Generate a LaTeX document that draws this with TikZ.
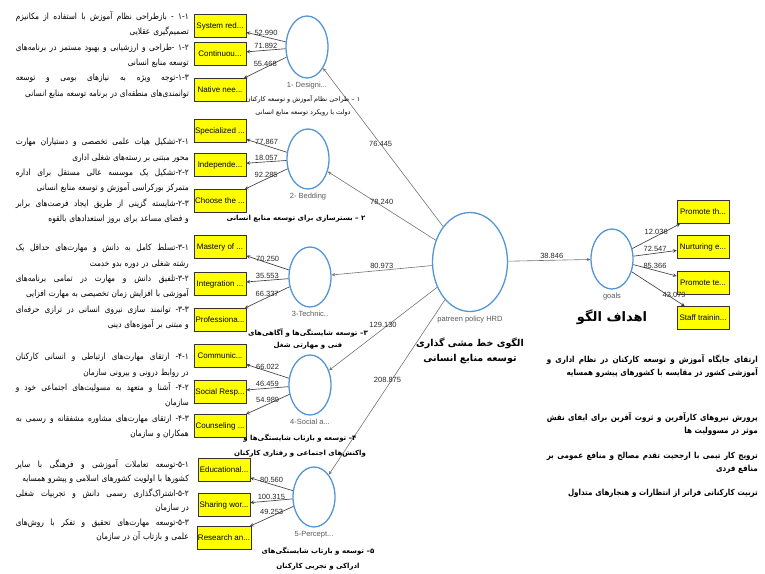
\documentclass[tikz,border=0pt]{standalone}
\usepackage{fontspec}
\setmainfont{Liberation Sans}
\newfontfamily\fa[Script=Arabic]{DejaVu Sans}
\newfontfamily\fanarrow[Script=Arabic, FakeStretch=0.86]{DejaVu Sans}
\TeXXeTstate=1
\usetikzlibrary{shapes.geometric, positioning, arrows}

\definecolor{circblue}{RGB}{84,150,212}
\definecolor{boxyellow}{RGB}{255,255,0}

% one justified RTL line, one ragged RTL line
\newcommand{\fafull}[1]{\leavevmode\hbox to\hsize{\spaceskip=0.3em plus 1fil\relax\beginR #1\endR}}
\newcommand{\faline}[1]{\beginR #1\endR}

\begin{document}
\begin{tikzpicture}[
    x=1pt, y=1pt, ->, >=stealth,
    latent/.style={ellipse, draw=circblue, line width=1.3pt, fill=white, minimum width=42pt, minimum height=60pt, inner sep=0pt},
    ind/.style={rectangle, draw=black!80, fill=boxyellow, line width=0.7pt, minimum width=52pt, minimum height=23pt, inner sep=1pt, font=\fontsize{8}{9}\selectfont},
    wt/.style={font=\fontsize{7.5}{8}\selectfont, text=black!85, inner sep=1pt},
    loadline/.style={draw=black!75, line width=0.65pt},
    pathline/.style={draw=black!55, line width=0.6pt},
    every label/.style={font=\fontsize{7.5}{8}\selectfont, text=black!65},
    fatext/.style={align=right, text width=173pt, inner sep=0pt, anchor=north east, font=\fanarrow\fontsize{8.6}{15.4}\selectfont},
    goaltext/.style={align=right, text width=211pt, inner sep=0pt, anchor=north east, font=\fanarrow\bfseries\fontsize{8.3}{13}\selectfont},
    dimtext/.style={align=center, inner sep=0pt, anchor=north, font=\fa\bfseries\fontsize{7}{15}\selectfont}
]
    \useasboundingbox (0,0) rectangle (765,-573);

    % Main constructs
    \node[latent, minimum width=75pt, minimum height=99pt, label=below:patreen policy HRD] (HRD) at (470,-262) {};
    \node[latent, label=below:goals] (GOALS) at (612,-259) {};

    % Dimensions
    \node[latent, minimum height=62pt, label=below:1- Designi...] (D1) at (307,-47) {};
    \node[latent, label=below:2- Bedding] (D2) at (308,-159) {};
    \node[latent, label=below:3-Technic..] (D3) at (310,-277) {};
    \node[latent, label=below:4-Social a...] (D4) at (310,-385) {};
    \node[latent, label=below:5-Percept...] (D5) at (314,-497) {};

    % Indicators 1
    \node[ind] (S11) at (220,-26) {System red...};
    \node[ind, below of=S11, node distance=28pt] (S12) {Continuou...};
    \node[ind, below of=S12, node distance=36pt] (S13) {Native nee...};
    % Indicators 2
    \node[ind] (S21) at (220,-131) {Specialized ...};
    \node[ind, below of=S21, node distance=34pt] (S22) {Independe...};
    \node[ind, below of=S22, node distance=36pt] (S23) {Choose the ...};
    % Indicators 3
    \node[ind] (S31) at (220,-247) {Mastery of ...};
    \node[ind, below of=S31, node distance=37pt] (S32) {Integration ...};
    \node[ind, below of=S32, node distance=36pt] (S33) {Professiona...};
    % Indicators 4
    \node[ind] (S41) at (220,-356) {Communic...};
    \node[ind, below of=S41, node distance=36pt] (S42) {Social Resp...};
    \node[ind, below of=S42, node distance=34pt] (S43) {Counseling ...};
    % Indicators 5
    \node[ind] (S51) at (224,-470) {Educational...};
    \node[ind, below of=S51, node distance=35pt] (S52) {Sharing wor...};
    \node[ind, below of=S52, node distance=33pt] (S53) {Research an...};
    % Goal indicators
    \node[ind] (G1) at (703,-212) {Promote th...};
    \node[ind, below of=G1, node distance=35pt] (G2) {Nurturing e...};
    \node[ind, below of=G2, node distance=36pt] (G3) {Promote te...};
    \node[ind, below of=G3, node distance=35pt] (G4) {Staff trainin...};

    % Edges
    % HRD -> dimensions
    \path (HRD) edge[pathline] node[wt, pos=0.52] {76.445} (D1)
          (HRD) edge[pathline] node[wt, above, pos=0.5] {78.240} (D2)
          (HRD) edge[pathline] node[wt, above, pos=0.5] {80.973} (D3)
          (HRD) edge[pathline] node[wt, above, pos=0.5] {129.130} (D4)
          (HRD) edge[pathline] node[wt, pos=0.46, xshift=-4pt] {208.875} (D5)
          (HRD) edge[pathline] node[wt, above, pos=0.53] {38.846} (GOALS);

    % Dimensions -> indicators
    \path (D1) edge[loadline] node[wt, above] {52.990} (S11)
          (D1) edge[loadline] node[wt, above] {71.892} (S12)
          (D1) edge[loadline] node[wt, above] {55.468} (S13);
    \path (D2) edge[loadline] node[wt, above] {77.867} (S21)
          (D2) edge[loadline] node[wt, above] {18.057} (S22)
          (D2) edge[loadline] node[wt, above] {92.285} (S23);
    \path (D3) edge[loadline] node[wt, above] {70.250} (S31)
          (D3) edge[loadline] node[wt, above] {35.553} (S32)
          (D3) edge[loadline] node[wt, above] {66.337} (S33);
    \path (D4) edge[loadline] node[wt, above] {66.022} (S41)
          (D4) edge[loadline] node[wt, above] {46.459} (S42)
          (D4) edge[loadline] node[wt, above] {54.989} (S43);
    \path (D5) edge[loadline] node[wt, above] {80.560} (S51)
          (D5) edge[loadline] node[wt, above] {100.315} (S52)
          (D5) edge[loadline] node[wt, above] {49.253} (S53);

    % Goals -> indicators
    \path (GOALS) edge[loadline] node[wt, above] {12.036} (G1)
          (GOALS) edge[loadline] node[wt, above] {72.547} (G2)
          (GOALS) edge[loadline] node[wt, above] {85.366} (G3)
          (GOALS) edge[loadline] node[wt, above, pos=0.8] {43.079} (G4);

    % Persian captions of the constructs
    \node[dimtext, font=\fa\fontsize{6.5}{13}\selectfont] (L1) at (303,-95) {\faline{۱ – طراحی نظام آموزش و توسعه کارکنان}\\ \faline{دولت با رویکرد توسعه منابع انسانی}};
    \node[dimtext] (L2) at (296,-215) {\faline{۲ – بسترسازی برای توسعه منابع انسانی}};
    \node[dimtext, font=\fa\bfseries\fontsize{7}{12}\selectfont] (L3) at (308,-329) {\faline{۳– توسعه شایستگی‌ها و آگاهی‌های}\\ \faline{فنی و مهارتی شغل}};
    \node[dimtext] (L4) at (300,-434) {\faline{۴– توسعه و بازتاب شایستگی‌ها و}\\ \faline{واکنش‌های اجتماعی و رفتاری کارکنان}};
    \node[dimtext] (L5) at (318,-547) {\faline{۵– توسعه و بازتاب شایستگی‌های}\\ \faline{ادراکی و تجربی کارکنان}};
    \node[dimtext, font=\fa\bfseries\fontsize{9.5}{15}\selectfont] (LHRD) at (470,-338) {\faline{الگوی خط مشی گذاری}\\ \faline{توسعه منابع انسانی}};
    \node[dimtext, font=\fa\bfseries\fontsize{13}{15}\selectfont] (LGOALS) at (612,-309) {\faline{اهداف الگو}};

    % Indicator texts, left
    \node[fatext] (T1) at (189,-11) {\fafull{۱-۱ - بازطراحی نظام آموزش با استفاده از مکانیزم}\\
        \faline{تصمیم‌گیری عقلایی}\\
        \fafull{۱-۲ -طراحی و ارزشیابی و بهبود مستمر در برنامه‌های}\\
        \faline{توسعه منابع انسانی}\\
        \fafull{۱-۳-توجه ویژه به نیازهای بومی و توسعه}\\
        \faline{توانمندی‌های منطقه‌ای در برنامه توسعه منابع انسانی}};
    \node[fatext] (T2) at (189,-138) {\fafull{۲-۱-تشکیل هیات علمی تخصصی و دستیاران مهارت}\\
        \faline{محور مبتنی بر رسته‌های شغلی اداری}\\
        \fafull{۲-۲-تشکیل یک موسسه عالی مستقل برای اداره}\\
        \faline{متمرکز بورکراسی آموزش و توسعه منابع انسانی}\\
        \fafull{۲-۳-شایسته گزینی از طریق ایجاد فرصت‌های برابر}\\
        \faline{و فضای مساعد برای بروز استعدادهای بالقوه}};
    \node[fatext] (T3) at (189,-244) {\fafull{۳-۱-تسلط کامل به دانش و مهارت‌های حداقل یک}\\
        \faline{رشته شغلی در دوره بدو خدمت}\\
        \fafull{۳-۲-تلفیق دانش و مهارت در تمامی برنامه‌های}\\
        \faline{آموزشی با افزایش زمان تخصیصی به مهارت افزایی}\\
        \fafull{۳-۳- توانمند سازی نیروی انسانی در ترازی حرفه‌ای}\\
        \faline{و مبتنی بر آموزه‌های دینی}};
    \node[fatext] (T4) at (189,-353) {\fafull{۴-۱- ارتقای مهارت‌های ارتباطی و انسانی کارکنان}\\
        \faline{در روابط درونی و بیرونی سازمان}\\
        \fafull{۴-۲- آشنا و متعهد به مسولیت‌های اجتماعی خود و}\\
        \faline{سازمان}\\
        \fafull{۴-۳- ارتقای مهارت‌های مشاوره مشفقانه و رسمی به}\\
        \faline{همکاران و سازمان}};
    \node[fatext, font=\fanarrow\fontsize{8.6}{14.5}\selectfont] (T5) at (189,-459) {\fafull{۵-۱-توسعه تعاملات آموزشی و فرهنگی با سایر}\\
        \faline{کشورها با اولویت کشورهای اسلامی و پیشرو همسایه}\\
        \fafull{۵-۲-اشتراک‌گذاری رسمی دانش و تجربیات شغلی}\\
        \faline{در سازمان}\\
        \fafull{۵-۳-توسعه مهارت‌های تحقیق و تفکر با روش‌های}\\
        \faline{علمی و بازتاب آن در سازمان}};

    % Goal texts, right
    \node[goaltext] (P1) at (758,-354) {\fafull{ارتقای جایگاه آموزش و توسعه کارکنان در نظام اداری و}\\
        \faline{آموزشی کشور در مقایسه با کشورهای پیشرو همسایه}};
    \node[goaltext] (P2) at (758,-412) {\fafull{پرورش نیروهای کارآفرین و ثروت آفرین برای ایفای نقش}\\
        \faline{موثر در مسوولیت ها}};
    \node[goaltext] (P3) at (758,-452) {\fafull{ترویج کار تیمی با ارجحیت تقدم مصالح و منافع عمومی بر}\\
        \faline{منافع فردی}};
    \node[goaltext] (P4) at (758,-489) {\faline{تربیت کارکنانی فراتر از انتظارات و هنجارهای متداول}};

\end{tikzpicture}
\end{document}
